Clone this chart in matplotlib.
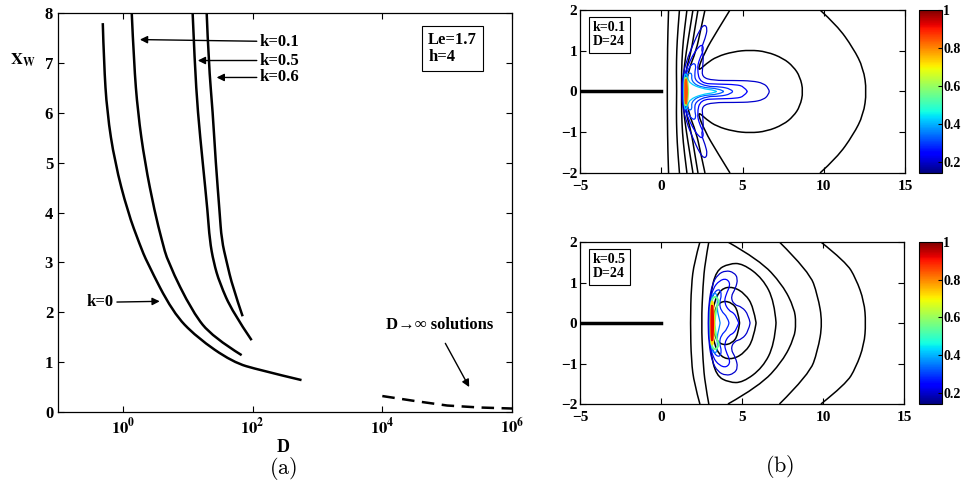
import numpy as np
import matplotlib
matplotlib.use('Agg')
import matplotlib.pyplot as plt
from matplotlib import colors
from matplotlib.path import Path
from matplotlib.patches import PathPatch
from matplotlib.ticker import NullLocator

plt.rcParams['font.family'] = ['Liberation Serif', 'DejaVu Serif']
plt.rcParams['font.weight'] = 'bold'
plt.rcParams['mathtext.fontset'] = 'stix'

# ---- panel (a): X_W vs D ----
D_k0 = [0.49, 0.51, 0.57, 0.75, 1.19, 1.83, 2.34, 5.87, 13.7, 49.2, 128, 568]
X_k0 = [7.80, 7.01, 6.01, 5.01, 4.01, 3.35, 3.01, 2.00, 1.50, 1.00, 0.84, 0.64]
D_k01 = [1.37, 1.48, 1.70, 2.18, 3.10, 3.98, 4.92, 11.9, 24.3, 67.8]
X_k01 = [8.0, 7.01, 6.01, 5.01, 4.01, 3.45, 3.01, 2.00, 1.50, 1.14]
D_k05 = [11.9, 12.8, 14.3, 17.0, 20.3, 21.8, 25.1, 31.0, 49.2, 96.6]
X_k05 = [8.0, 7.01, 6.01, 5.01, 4.01, 3.45, 3.00, 2.59, 2.00, 1.44]
D_k06 = [19.6, 21.0, 24.3, 27.0, 31.0, 33.3, 39.8, 49.2, 70.2]
X_k06 = [8.0, 7.01, 6.01, 5.01, 4.01, 3.45, 3.01, 2.51, 1.92]
D_inf = [1e4, 3.2e4, 1e5, 3.2e5, 1e6]
X_inf = [0.32, 0.22, 0.13, 0.09, 0.07]

# ---- panel (b): contour lines, upper half starting on y=0 (mirrored about y=0) ----
# top: k=0.1, D=24
top_black = [
    ([0.37, 0.38, 0.40, 0.45], [0, 0.7, 1.4, 2.0]),
    ([0.95, 0.93, 0.95, 1.02, 1.12], [0, 0.5, 1.0, 1.5, 2.0]),
    ([1.25, 1.25, 1.30, 1.42, 1.58], [0, 0.5, 1.0, 1.5, 2.0]),
    ([1.35, 1.38, 1.55, 1.75, 1.95], [0, 0.5, 1.0, 1.5, 2.0]),
    ([1.42, 1.50, 1.85, 2.05, 2.26], [0, 0.5, 1.0, 1.5, 2.0]),
    ([1.50, 1.65, 2.15, 2.42, 2.69], [0, 0.5, 1.0, 1.5, 2.0]),
    ([8.74, 8.54, 8.13, 7.51, 6.49, 5.46, 4.43, 3.41, 2.79, 2.18, 2.69, 3.41, 4.23],
     [0, 0.364, 0.61, 0.814, 0.977, 1.018, 0.977, 0.855, 0.69, 0.47, 0.98, 1.47, 2.0]),
    ([12.64, 12.44, 11.82, 10.8, 9.77], [0, 0.57, 1.06, 1.63, 2.0]),
]
top_color = [
    (0.20, [1.25, 1.30, 1.55, 1.95, 2.35, 2.65, 2.85, 2.70, 2.45, 2.60, 2.55, 2.50, 3.2, 4.5, 5.6, 6.3, 6.6, 6.65],
           [0, 0.35, 0.75, 1.15, 1.50, 1.65, 1.55, 1.30, 1.05, 0.90, 0.60, 0.35, 0.27, 0.27, 0.26, 0.20, 0.08, 0]),
    (0.24, [1.30, 1.35, 1.60, 1.95, 2.30, 2.55, 2.60, 2.35, 2.20, 2.40, 3.5, 4.6, 5.1, 5.3],
           [0, 0.30, 0.60, 0.90, 1.10, 1.15, 1.00, 0.80, 0.55, 0.20, 0.18, 0.17, 0.12, 0]),
    (0.28, [1.35, 1.40, 1.65, 1.95, 2.15, 2.05, 2.10, 2.8, 3.6, 4.3, 4.4],
           [0, 0.30, 0.55, 0.70, 0.65, 0.45, 0.25, 0.12, 0.12, 0.06, 0]),
    (0.33, [1.38, 1.42, 1.65, 1.90, 1.85, 2.4, 3.6, 3.85],
           [0, 0.25, 0.45, 0.45, 0.25, 0.10, 0.07, 0]),
    (0.42, [1.40, 1.41, 1.60, 1.72, 2.5, 3.3, 3.4], [0, 0.45, 0.40, 0.20, 0.07, 0.03, 0]),
    (0.60, [1.44, 1.45, 1.60, 1.64, 1.66], [0, 0.36, 0.30, 0.10, 0]),
    (0.85, [1.47, 1.48, 1.56, 1.58], [0, 0.30, 0.28, 0]),
]
# bottom: k=0.5, D=24
bot_black = [
    ([1.81, 1.87, 2.05, 2.40], [0, 0.94, 1.5, 2.0]),
    ([2.49, 2.59, 2.72, 2.95], [0, 0.94, 1.5, 2.0]),
    ([8.33, 8.23, 7.51, 6.08, 4.13], [0, 0.36, 0.94, 1.56, 2.0]),
    ([9.97, 9.67, 9.15, 7.31], [0, 0.69, 1.27, 2.0]),
    ([12.64, 12.54, 12.03, 11.41, 9.87], [0, 0.53, 1.1, 1.51, 2.0]),
    ([2.95, 3.05, 3.40, 4.20, 5.05, 6.28, 7.00, 7.10], [0, 0.7, 1.3, 1.47, 1.47, 1.1, 0.53, 0]),
    ([3.10, 3.25, 3.70, 4.44, 5.20, 5.70, 5.87], [0, 0.5, 0.85, 0.9, 0.72, 0.4, 0]),
    ([3.20, 3.35, 3.80, 4.40, 4.75, 4.85], [0, 0.4, 0.55, 0.5, 0.3, 0]),
]
bot_color = [
    (0.20, [2.90, 2.95, 3.15, 3.50, 4.00, 4.50, 4.75, 4.60, 4.30, 4.50, 5.00, 5.40, 5.50],
           [0, 0.50, 0.95, 1.20, 1.30, 1.25, 1.10, 0.85, 0.65, 0.45, 0.40, 0.20, 0]),
    (0.24, [2.95, 3.00, 3.20, 3.60, 4.05, 4.30, 4.00, 3.90, 4.20, 4.50, 4.70, 4.80],
           [0, 0.50, 0.85, 1.05, 1.10, 0.95, 0.70, 0.50, 0.30, 0.25, 0.10, 0]),
    (0.28, [3.00, 3.05, 3.25, 3.60, 3.75, 3.60, 3.70, 4.10, 4.20],
           [0, 0.45, 0.75, 0.85, 0.70, 0.50, 0.30, 0.15, 0]),
    (0.36, [3.02, 3.08, 3.30, 3.50, 3.45, 3.60, 3.65], [0, 0.60, 0.78, 0.65, 0.35, 0.10, 0]),
    (0.55, [3.04, 3.07, 3.35, 3.62, 3.40, 3.30], [0, 0.55, 0.68, 0.52, 0.40, 0]),
    (0.72, [3.07, 3.10, 3.25, 3.28], [0, 0.55, 0.50, 0]),
    (0.92, [3.10, 3.12, 3.20, 3.22], [0, 0.45, 0.42, 0]),
]
plate_x = [-5, 0]
plate_y = [0, 0]

cmap = plt.get_cmap('jet')
norm = colors.Normalize(vmin=0.14, vmax=1.0)


def mirror(xs, ys):
    # upper half starts on y=0: walk it backwards, then down the lower half
    xs = np.asarray(xs, float)
    ys = np.asarray(ys, float)
    return np.r_[xs[::-1], xs[1:]], np.r_[ys[::-1], -ys[1:]]


def smooth_path(xs, ys, logx=False):
    # quadratic bezier through midpoints, read points act as control points
    xs = np.log10(xs) if logx else np.asarray(xs, float)
    pts = np.column_stack([xs, ys])
    verts = [pts[0]]
    codes = [Path.MOVETO]
    for i in range(1, len(pts) - 1):
        end = pts[i + 1] if i == len(pts) - 2 else (pts[i] + pts[i + 1]) / 2
        verts += [pts[i], end]
        codes += [Path.CURVE3, Path.CURVE3]
    if len(pts) == 2:
        verts.append(pts[1])
        codes.append(Path.LINETO)
    verts = np.array(verts)
    if logx:
        verts[:, 0] = 10 ** verts[:, 0]
    return Path(verts, codes)


fig = plt.figure(figsize=(9.67, 4.87), dpi=100)

ax = fig.add_axes([0.060, 0.154, 0.4695, 0.819])
ax.set_xscale('log')
for D, X in [(D_k0, X_k0), (D_k01, X_k01), (D_k05, X_k05), (D_k06, X_k06)]:
    ax.add_patch(PathPatch(smooth_path(D, X, logx=True), fill=False, ec='k', lw=1.8, capstyle='butt'))
ax.plot(D_inf, X_inf, color='k', lw=1.8, dashes=(5, 3))
ax.set_xlim(1e-1, 1e6)
ax.set_ylim(0, 8)
ax.set_xticks([1, 1e2, 1e4, 1e6])
ax.set_xticklabels([r'$\mathbf{10^{0}}$', r'$\mathbf{10^{2}}$', r'$\mathbf{10^{4}}$', r'$\mathbf{10^{6}}$'])
ax.xaxis.set_minor_locator(NullLocator())
ax.set_yticks(range(9))
ax.tick_params(direction='in', top=True, right=True, labelsize=12, length=4, width=0.8)
for s in ax.spines.values():
    s.set_linewidth(0.9)

arr = dict(arrowstyle='-|>', color='k', lw=1.0, mutation_scale=11, shrinkA=0, shrinkB=0)
ax.annotate('k=0.1', xy=(1.83, 7.47), xytext=(128, 7.43), ha='left', va='center', fontsize=12, arrowprops=arr)
ax.annotate('k=0.5', xy=(14.3, 7.05), xytext=(128, 7.05), ha='left', va='center', fontsize=12, arrowprops=arr)
ax.annotate('k=0.6', xy=(27.9, 6.71), xytext=(128, 6.71), ha='left', va='center', fontsize=12, arrowprops=arr)
ax.annotate('k=0', xy=(3.7, 2.22), xytext=(0.28, 2.2), ha='left', va='center', fontsize=12, arrowprops=arr)
ax.annotate('D→∞ solutions', xy=(10**5.34, 0.5), xytext=(10**4.06, 1.74), ha='left', va='center',
            fontsize=12, arrowprops=dict(arr, relpos=(0.5, 0), shrinkA=6))
ax.text(0.815, 0.952, 'Le=1.7\nh=4', transform=ax.transAxes, ha='left', va='top', fontsize=12,
        linespacing=1.1, bbox=dict(boxstyle='square,pad=0.35', fc='white', ec='k', lw=0.8))

fig.text(0.010, 0.877, r'$\mathbf{X_W}$', fontsize=12, ha='left', va='center')
fig.text(283 / 967, 1 - 447 / 487, 'D', fontsize=13, ha='center', va='center')
fig.text(283 / 967, 1 - 469 / 487, r'$\mathrm{(a)}$', fontsize=16, ha='center', va='center',
         math_fontfamily='cm')
fig.text(780 / 967, 1 - 466 / 487, r'$\mathrm{(b)}$', fontsize=16, ha='center', va='center',
         math_fontfamily='cm')

panels = [
    ([0.5998, 0.6448, 0.3361, 0.3347], top_black, top_color, 'k=0.1\nD=24'),
    ([0.5998, 0.1704, 0.3351, 0.3326], bot_black, bot_color, 'k=0.5\nD=24'),
]
for rect, blacks, cols, label in panels:
    a = fig.add_axes(rect)
    a.plot(plate_x, plate_y, color='k', lw=2.5)
    for xs, ys in blacks:
        mx, my = mirror(xs, ys)
        a.add_patch(PathPatch(smooth_path(mx, my), fill=False, ec='k', lw=1.1))
    for lev, xs, ys in cols:
        mx, my = mirror(xs, ys)
        a.add_patch(PathPatch(smooth_path(mx, my), fill=False, ec=cmap(norm(lev)),
                              lw=1.4 if lev > 0.5 else 0.9))
    a.set_xlim(-5, 15)
    a.set_ylim(-2, 2)
    a.set_xticks([-5, 0, 5, 10, 15])
    a.set_yticks([-2, -1, 0, 1, 2])
    a.set_xticklabels(['−5', '0', '5', '10', '15'])
    a.set_yticklabels(['−2', '−1', '0', '1', '2'])
    a.tick_params(direction='in', top=True, right=True, labelsize=11, length=4, width=0.8)
    a.tick_params(axis='x', pad=5)
    a.tick_params(axis='y', pad=2)
    for s in a.spines.values():
        s.set_linewidth(0.9)
    a.text(0.04, 0.93, label, transform=a.transAxes, ha='left', va='top', fontsize=10,
           linespacing=1.1, bbox=dict(boxstyle='square,pad=0.3', fc='white', ec='k', lw=0.8))

    cax = fig.add_axes([919 / 967, rect[1], 23 / 967, rect[3]])
    sm = plt.cm.ScalarMappable(norm=norm, cmap=cmap)
    cb = fig.colorbar(sm, cax=cax, ticks=[0.2, 0.4, 0.6, 0.8, 1.0])
    cb.ax.set_yticklabels(['0.2', '0.4', '0.6', '0.8', '1'])
    cb.ax.tick_params(labelsize=10, length=3, direction='in', pad=1)
    cb.outline.set_linewidth(0.8)

fig.savefig('out.png', dpi=100)
